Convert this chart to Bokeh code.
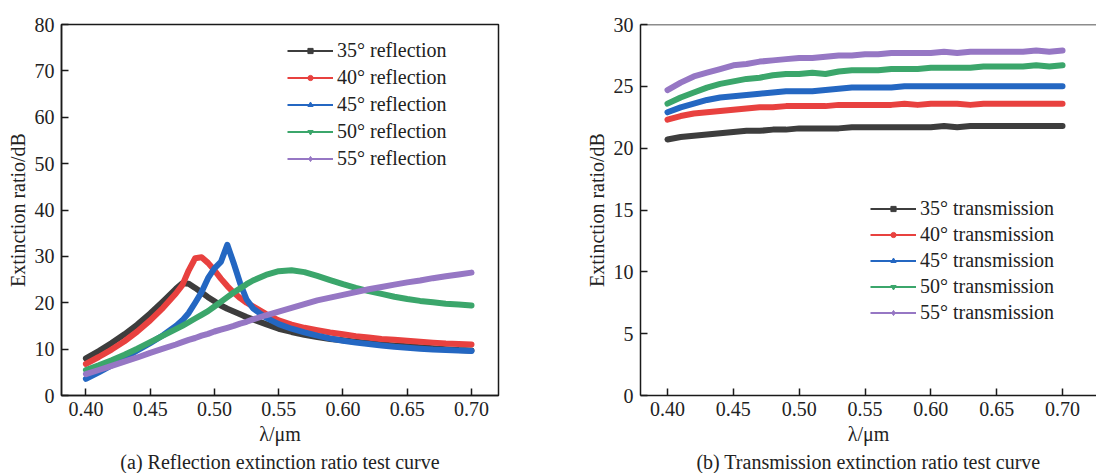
from bokeh.plotting import figure
from bokeh.layouts import row
from bokeh.models import Range1d, FixedTicker, Legend, LegendItem, Title, Span
from bokeh.embed import file_html
from bokeh.resources import INLINE

# ---------------- data ----------------
angles = ["35°", "40°", "45°", "50°", "55°"]
colors = ["#3d3d3d", "#e8413f", "#2467c2", "#3ba66b", "#9677c4"]
markers = ["square", "circle", "triangle", "inverted_triangle", "diamond"]

# (a) reflection
lam_a = [0.40, 0.41, 0.42, 0.43, 0.44, 0.45, 0.46, 0.47, 0.475, 0.48, 0.485, 0.49,
         0.495, 0.50, 0.505, 0.51, 0.515, 0.52, 0.525, 0.53, 0.54, 0.55, 0.56, 0.57,
         0.58, 0.59, 0.60, 0.61, 0.62, 0.63, 0.64, 0.65, 0.66, 0.67, 0.68, 0.69, 0.70]
refl_35 = [8.0, 9.6, 11.3, 13.2, 15.3, 17.7, 20.3, 23.0, 24.2, 24.1, 23.2, 22.2,
           21.2, 20.3, 19.4, 18.7, 18.1, 17.5, 16.9, 16.4, 15.4, 14.4, 13.7, 13.1,
           12.6, 12.2, 11.9, 11.6, 11.3, 11.0, 10.8, 10.6, 10.4, 10.2, 10.0, 9.8, 9.7]
refl_40 = [6.8, 8.3, 9.9, 11.7, 13.8, 16.2, 18.9, 22.0, 23.8, 27.0, 29.6, 29.8,
           28.6, 27.0, 25.2, 23.6, 22.2, 21.0, 20.0, 19.2, 17.6, 16.2, 15.3, 14.6,
           14.1, 13.6, 13.2, 12.8, 12.5, 12.2, 12.0, 11.8, 11.6, 11.4, 11.2, 11.1, 11.0]
refl_45 = [3.6, 5.0, 6.5, 8.1, 9.7, 11.3, 13.0, 15.0, 16.2, 17.8, 20.0, 22.3,
           25.3, 27.4, 28.8, 32.5, 28.5, 24.2, 20.7, 18.8, 16.8, 15.4, 14.4, 13.6,
           12.9, 12.3, 11.8, 11.4, 11.1, 10.8, 10.5, 10.3, 10.1, 9.9, 9.8, 9.7, 9.6]
refl_50 = [5.5, 6.5, 7.6, 8.8, 10.1, 11.5, 12.9, 14.3, 15.0, 15.8, 16.6, 17.4,
           18.2, 19.2, 20.2, 21.2, 22.2, 23.1, 24.0, 24.8, 26.0, 26.8, 27.0, 26.6,
           25.8, 24.9, 24.0, 23.2, 22.5, 21.9, 21.3, 20.8, 20.4, 20.1, 19.8, 19.6, 19.4]
refl_55 = [4.6, 5.5, 6.4, 7.3, 8.2, 9.2, 10.1, 11.0, 11.5, 12.0, 12.4, 12.9,
           13.3, 13.8, 14.2, 14.6, 15.0, 15.5, 15.9, 16.4, 17.3, 18.1, 18.9, 19.7,
           20.5, 21.1, 21.7, 22.3, 22.9, 23.4, 23.9, 24.4, 24.8, 25.3, 25.7, 26.1, 26.5]

# (b) transmission
lam_b = [0.40, 0.41, 0.42, 0.43, 0.44, 0.45, 0.46, 0.47, 0.48, 0.49, 0.50, 0.51,
         0.52, 0.53, 0.54, 0.55, 0.56, 0.57, 0.58, 0.59, 0.60, 0.61, 0.62, 0.63,
         0.64, 0.65, 0.66, 0.67, 0.68, 0.69, 0.70]
trans_35 = [20.7, 20.9, 21.0, 21.1, 21.2, 21.3, 21.4, 21.4, 21.5, 21.5, 21.6, 21.6,
            21.6, 21.6, 21.7, 21.7, 21.7, 21.7, 21.7, 21.7, 21.7, 21.8, 21.7, 21.8,
            21.8, 21.8, 21.8, 21.8, 21.8, 21.8, 21.8]
trans_40 = [22.3, 22.6, 22.8, 22.9, 23.0, 23.1, 23.2, 23.3, 23.3, 23.4, 23.4, 23.4,
            23.4, 23.5, 23.5, 23.5, 23.5, 23.5, 23.6, 23.5, 23.6, 23.6, 23.6, 23.5,
            23.6, 23.6, 23.6, 23.6, 23.6, 23.6, 23.6]
trans_45 = [22.9, 23.3, 23.6, 23.9, 24.1, 24.2, 24.3, 24.4, 24.5, 24.6, 24.6, 24.6,
            24.7, 24.8, 24.9, 24.9, 24.9, 24.9, 25.0, 25.0, 25.0, 25.0, 25.0, 25.0,
            25.0, 25.0, 25.0, 25.0, 25.0, 25.0, 25.0]
trans_50 = [23.6, 24.1, 24.5, 24.9, 25.2, 25.4, 25.6, 25.7, 25.9, 26.0, 26.0, 26.1,
            26.0, 26.2, 26.3, 26.3, 26.3, 26.4, 26.4, 26.4, 26.5, 26.5, 26.5, 26.5,
            26.6, 26.6, 26.6, 26.6, 26.7, 26.6, 26.7]
trans_55 = [24.7, 25.3, 25.8, 26.1, 26.4, 26.7, 26.8, 27.0, 27.1, 27.2, 27.3, 27.3,
            27.4, 27.5, 27.5, 27.6, 27.6, 27.7, 27.7, 27.7, 27.7, 27.8, 27.7, 27.8,
            27.8, 27.8, 27.8, 27.8, 27.9, 27.8, 27.9]

x_ticks = [0.40, 0.45, 0.50, 0.55, 0.60, 0.65, 0.70]
x_tick_labels = ["0.40", "0.45", "0.50", "0.55", "0.60", "0.65", "0.70"]
y_ticks_a = [0, 10, 20, 30, 40, 50, 60, 70, 80]
y_ticks_b = [0, 5, 10, 15, 20, 25, 30]

FONT = "Liberation Serif"
FS = "20px"


def style(p, yticks):
    for ax in (p.xaxis[0], p.yaxis[0]):
        ax.major_tick_in = 7
        ax.major_tick_out = 0
        ax.minor_tick_in = 0
        ax.minor_tick_out = 0
        ax.axis_line_width = 1.5
        ax.axis_line_color = "#1a1a1a"
        ax.major_tick_line_width = 1.5
        ax.major_tick_line_color = "#1a1a1a"
        ax.major_label_text_font = FONT
        ax.major_label_text_font_size = FS
        ax.major_label_text_color = "#222222"
        ax.axis_label_text_font = FONT
        ax.axis_label_text_font_size = FS
        ax.axis_label_text_font_style = "normal"
        ax.axis_label_text_color = "#222222"
    p.xaxis[0].ticker = FixedTicker(ticks=x_ticks)
    p.xaxis[0].major_label_overrides = {t: l for t, l in zip(x_ticks, x_tick_labels)}
    p.xaxis[0].major_label_standoff = 6
    p.xaxis[0].axis_label_standoff = 4
    p.xaxis[0].axis_label = "λ/μm"
    p.yaxis[0].ticker = FixedTicker(ticks=yticks)
    p.yaxis[0].major_label_standoff = 7
    p.yaxis[0].axis_label_standoff = 3
    p.yaxis[0].axis_label = "Extinction ratio/dB"
    p.grid.visible = False
    p.background_fill_color = "white"
    p.border_fill_color = "white"


def draw_series(p, xs, series, suffix, loc, row_h):
    items = []
    for ys, a, c, m in zip(series, angles, colors, markers):
        # thin line + small markers (used for the legend), covered by the thick curve
        ln = p.line(x=xs, y=ys, line_color=c, line_width=2)
        sc = p.scatter(x=xs, y=ys, marker=m, size=3, fill_color=c, line_color=c)
        p.line(x=xs, y=ys, line_color=c, line_width=6, line_join="round",
               line_cap="round")
        items.append(LegendItem(label=f"{a} {suffix}", renderers=[ln, sc]))
    leg = Legend(items=items, location=loc, border_line_color=None,
                 background_fill_alpha=0, padding=0, margin=0, spacing=0,
                 glyph_width=46, glyph_height=13, label_height=row_h,
                 label_standoff=4, label_text_font=FONT,
                 label_text_font_size=FS, label_text_color="#222222")
    p.add_layout(leg)


# ---------------- (a) ----------------
pa = figure(width=550, height=473, output_backend="svg", toolbar_location=None,
            x_range=Range1d(0.381, 0.721), y_range=Range1d(0, 80),
            min_border_left=61, min_border_right=52, min_border_top=24,
            min_border_bottom=0)
style(pa, y_ticks_a)
pa.outline_line_color = "#1a1a1a"
pa.outline_line_width = 1.5
pa.outline_line_alpha = 1
draw_series(pa, lam_a, [refl_35, refl_40, refl_45, refl_50, refl_55],
            "reflection", (226, 223), 27)
pa.add_layout(Title(text="(a) Reflection extinction ratio test curve", align="center",
                    text_font=FONT, text_font_size=FS, text_font_style="normal",
                    text_color="#222222", standoff=2), "below")

# ---------------- (b) ----------------
pb = figure(width=546, height=473, output_backend="svg", toolbar_location=None,
            x_range=Range1d(0.3795, 0.7258), y_range=Range1d(0, 30),
            min_border_left=90, min_border_right=0, min_border_top=24,
            min_border_bottom=0)
style(pb, y_ticks_b)
pb.outline_line_color = None
pb.add_layout(Span(location=30, dimension="width", line_color="#1a1a1a",
                   line_width=1.5))
draw_series(pb, lam_b, [trans_35, trans_40, trans_45, trans_50, trans_55],
            "transmission", (230, 70), 26)
pb.add_layout(Title(text="(b) Transmission extinction ratio test curve", align="center",
                    text_font=FONT, text_font_size=FS, text_font_style="normal",
                    text_color="#222222", standoff=2), "below")

layout = row(pa, pb)
open("out.html", "w").write(file_html(layout, INLINE))
